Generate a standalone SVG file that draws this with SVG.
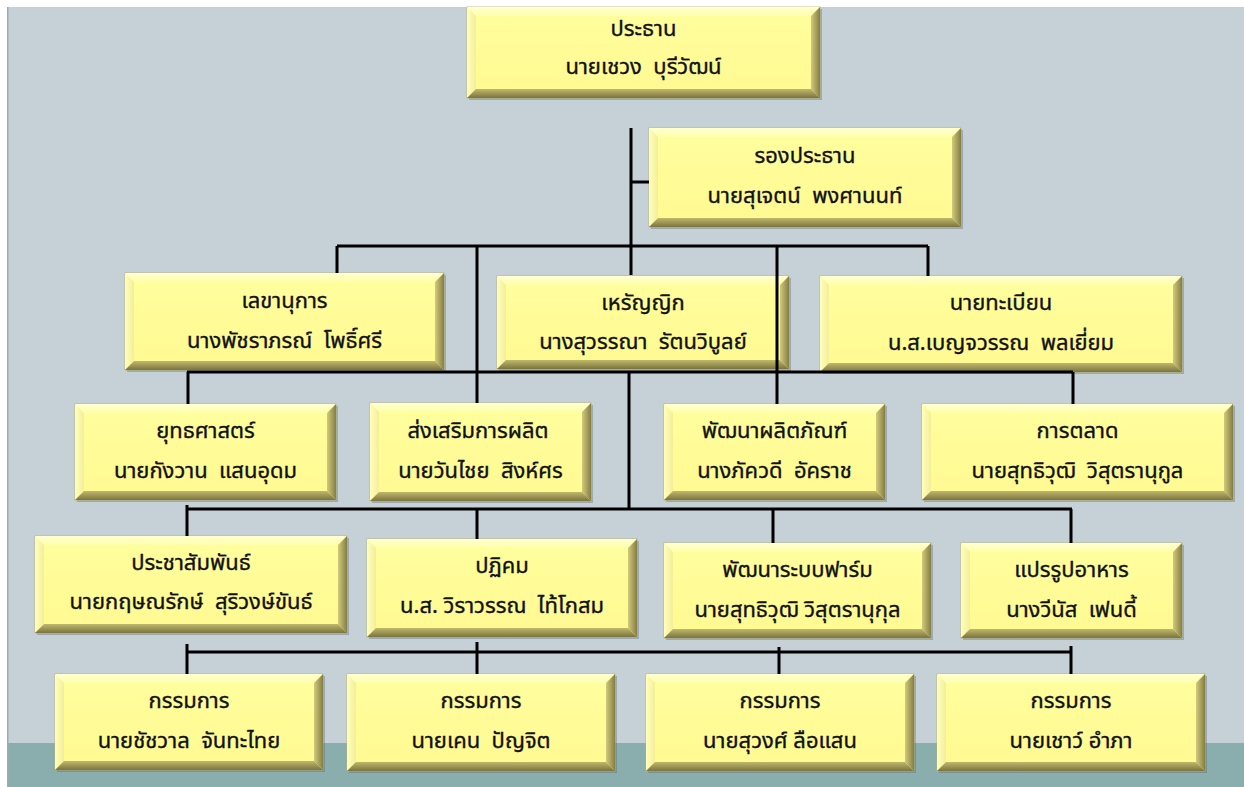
<svg xmlns="http://www.w3.org/2000/svg" width="1244" height="787" viewBox="0 0 1244 787">
<defs>
<linearGradient id="gF" x1="0" y1="0" x2="0" y2="1"><stop offset="0" stop-color="#FFFF9E"/><stop offset="1" stop-color="#FFF991"/></linearGradient>
<linearGradient id="gT" x1="0" y1="0" x2="0" y2="1"><stop offset="0" stop-color="#FFFFD2"/><stop offset="1" stop-color="#FFFFAA"/></linearGradient>
<linearGradient id="gL" x1="0" y1="0" x2="1" y2="0"><stop offset="0" stop-color="#FFFFBC"/><stop offset="1" stop-color="#F4EE98"/></linearGradient>
<linearGradient id="gR" x1="0" y1="0" x2="1" y2="0"><stop offset="0" stop-color="#D2CA7A"/><stop offset="1" stop-color="#857E44"/></linearGradient>
<linearGradient id="gB" x1="0" y1="0" x2="0" y2="1"><stop offset="0" stop-color="#C0B86C"/><stop offset="1" stop-color="#7A743F"/></linearGradient>
</defs>
<style>
.face{fill:url(#gF);stroke:#B9B26A;stroke-width:0.8}
.t{fill:url(#gT)}
.l{fill:url(#gL)}
.r{fill:url(#gR)}
.b{fill:url(#gB)}
.sh{fill:#5A6468;opacity:0.35}
text{font-family:"Noto Sans Thai","Tahoma","DejaVu Sans",sans-serif;font-size:22px;fill:#111;stroke:#111;stroke-width:0.35;text-anchor:middle;white-space:pre}
.cn path{stroke:#000;stroke-width:3;fill:none}
</style>
<rect width="1244" height="787" fill="#FFFFFF"/>
<rect x="7" y="7" width="1237" height="780" fill="#C5D0D7"/>
<rect x="7" y="743" width="1237" height="44" fill="#8AADAD"/>
<rect x="7" y="7" width="1.5" height="780" fill="#9AADB0"/>

<g id="n1">
<rect class="sh" x="469" y="9" width="353" height="91"/>
<rect class="face" x="467" y="7" width="353" height="91"/>
<polygon class="t" points="467,7 820,7 811,16 476,16"/>
<polygon class="l" points="467,7 476,16 476,89 467,98"/>
<polygon class="r" points="820,7 820,98 811,89 811,16"/>
<polygon class="b" points="467,98 476,89 811,89 820,98"/>
<text x="643.5" y="36">ประธาน</text>
<text x="643.5" y="74">นายเชวง  บุรีวัฒน์</text>
</g>
<g id="n2">
<rect class="sh" x="651" y="130" width="312" height="99"/>
<rect class="face" x="649" y="128" width="312" height="99"/>
<polygon class="t" points="649,128 961,128 952,137 658,137"/>
<polygon class="l" points="649,128 658,137 658,218 649,227"/>
<polygon class="r" points="961,128 961,227 952,218 952,137"/>
<polygon class="b" points="649,227 658,218 952,218 961,227"/>
<text x="805" y="163">รองประธาน</text>
<text x="805" y="203">นายสุเจตน์  พงศานนท์</text>
</g>
<g id="n3">
<rect class="sh" x="127" y="275" width="319" height="97"/>
<rect class="face" x="125" y="273" width="319" height="97"/>
<polygon class="t" points="125,273 444,273 435,282 134,282"/>
<polygon class="l" points="125,273 134,282 134,361 125,370"/>
<polygon class="r" points="444,273 444,370 435,361 435,282"/>
<polygon class="b" points="125,370 134,361 435,361 444,370"/>
<text x="284.5" y="308">เลขานุการ</text>
<text x="284.5" y="348">นางพัชราภรณ์  โพธิ์ศรี</text>
</g>
<g id="n4">
<rect class="sh" x="499" y="278" width="292" height="93"/>
<rect class="face" x="497" y="276" width="292" height="93"/>
<polygon class="t" points="497,276 789,276 780,285 506,285"/>
<polygon class="l" points="497,276 506,285 506,360 497,369"/>
<polygon class="r" points="789,276 789,369 780,360 780,285"/>
<polygon class="b" points="497,369 506,360 780,360 789,369"/>
<text x="643" y="310">เหรัญญิก</text>
<text x="643" y="349">นางสุวรรณา  รัตนวิบูลย์</text>
</g>
<g id="n5">
<rect class="sh" x="822" y="278" width="362" height="96"/>
<rect class="face" x="820" y="276" width="362" height="96"/>
<polygon class="t" points="820,276 1182,276 1173,285 829,285"/>
<polygon class="l" points="820,276 829,285 829,363 820,372"/>
<polygon class="r" points="1182,276 1182,372 1173,363 1173,285"/>
<polygon class="b" points="820,372 829,363 1173,363 1182,372"/>
<text x="1001" y="310">นายทะเบียน</text>
<text x="1001" y="350">น.ส.เบญจวรรณ  พลเยี่ยม</text>
</g>
<g id="n6">
<rect class="sh" x="77" y="406" width="261" height="96"/>
<rect class="face" x="75" y="404" width="261" height="96"/>
<polygon class="t" points="75,404 336,404 327,413 84,413"/>
<polygon class="l" points="75,404 84,413 84,491 75,500"/>
<polygon class="r" points="336,404 336,500 327,491 327,413"/>
<polygon class="b" points="75,500 84,491 327,491 336,500"/>
<text x="205.5" y="438">ยุทธศาสตร์</text>
<text x="205.5" y="478">นายกังวาน  แสนอุดม</text>
</g>
<g id="n7">
<rect class="sh" x="372" y="405" width="221" height="98"/>
<rect class="face" x="370" y="403" width="221" height="98"/>
<polygon class="t" points="370,403 591,403 582,412 379,412"/>
<polygon class="l" points="370,403 379,412 379,492 370,501"/>
<polygon class="r" points="591,403 591,501 582,492 582,412"/>
<polygon class="b" points="370,501 379,492 582,492 591,501"/>
<text x="478" y="438">ส่งเสริมการผลิต</text>
<text x="480.5" y="478">นายวันไชย  สิงห์ศร</text>
</g>
<g id="n8">
<rect class="sh" x="666" y="406" width="221" height="96"/>
<rect class="face" x="664" y="404" width="221" height="96"/>
<polygon class="t" points="664,404 885,404 876,413 673,413"/>
<polygon class="l" points="664,404 673,413 673,491 664,500"/>
<polygon class="r" points="885,404 885,500 876,491 876,413"/>
<polygon class="b" points="664,500 673,491 876,491 885,500"/>
<text x="774.5" y="438">พัฒนาผลิตภัณฑ์</text>
<text x="774.5" y="478">นางภัควดี  อัคราช</text>
</g>
<g id="n9">
<rect class="sh" x="924" y="406" width="311" height="96"/>
<rect class="face" x="922" y="404" width="311" height="96"/>
<polygon class="t" points="922,404 1233,404 1224,413 931,413"/>
<polygon class="l" points="922,404 931,413 931,491 922,500"/>
<polygon class="r" points="1233,404 1233,500 1224,491 1224,413"/>
<polygon class="b" points="922,500 931,491 1224,491 1233,500"/>
<text x="1077.5" y="438">การตลาด</text>
<text x="1077.5" y="478">นายสุทธิวุฒิ  วิสุตรานุกูล</text>
</g>
<g id="n10">
<rect class="sh" x="37" y="538" width="312" height="97"/>
<rect class="face" x="35" y="536" width="312" height="97"/>
<polygon class="t" points="35,536 347,536 338,545 44,545"/>
<polygon class="l" points="35,536 44,545 44,624 35,633"/>
<polygon class="r" points="347,536 347,633 338,624 338,545"/>
<polygon class="b" points="35,633 44,624 338,624 347,633"/>
<text x="191" y="570">ประชาสัมพันธ์</text>
<text x="191" y="609">นายกฤษณรักษ์  สุริวงษ์ขันธ์</text>
</g>
<g id="n11">
<rect class="sh" x="369" y="541" width="270" height="98"/>
<rect class="face" x="367" y="539" width="270" height="98"/>
<polygon class="t" points="367,539 637,539 628,548 376,548"/>
<polygon class="l" points="367,539 376,548 376,628 367,637"/>
<polygon class="r" points="637,539 637,637 628,628 628,548"/>
<polygon class="b" points="367,637 376,628 628,628 637,637"/>
<text x="502" y="573">ปฏิคม</text>
<text x="502" y="613">น.ส. วิราวรรณ  ไท้โกสม</text>
</g>
<g id="n12">
<rect class="sh" x="666" y="545" width="267" height="95"/>
<rect class="face" x="664" y="543" width="267" height="95"/>
<polygon class="t" points="664,543 931,543 922,552 673,552"/>
<polygon class="l" points="664,543 673,552 673,629 664,638"/>
<polygon class="r" points="931,543 931,638 922,629 922,552"/>
<polygon class="b" points="664,638 673,629 922,629 931,638"/>
<text x="797.5" y="577">พัฒนาระบบฟาร์ม</text>
<text x="797.5" y="617">นายสุทธิวุฒิ วิสุตรานุกุล</text>
</g>
<g id="n13">
<rect class="sh" x="963" y="545" width="221" height="95"/>
<rect class="face" x="961" y="543" width="221" height="95"/>
<polygon class="t" points="961,543 1182,543 1173,552 970,552"/>
<polygon class="l" points="961,543 970,552 970,629 961,638"/>
<polygon class="r" points="1182,543 1182,638 1173,629 1173,552"/>
<polygon class="b" points="961,638 970,629 1173,629 1182,638"/>
<text x="1071.5" y="577">แปรรูปอาหาร</text>
<text x="1071.5" y="617">นางวีนัส  เฟนดี้</text>
</g>
<g id="n14">
<rect class="sh" x="57" y="676" width="268" height="96"/>
<rect class="face" x="55" y="674" width="268" height="96"/>
<polygon class="t" points="55,674 323,674 314,683 64,683"/>
<polygon class="l" points="55,674 64,683 64,761 55,770"/>
<polygon class="r" points="323,674 323,770 314,761 314,683"/>
<polygon class="b" points="55,770 64,761 314,761 323,770"/>
<text x="189" y="708">กรรมการ</text>
<text x="189" y="748">นายชัชวาล  จันทะไทย</text>
</g>
<g id="n15">
<rect class="sh" x="349" y="676" width="268" height="97"/>
<rect class="face" x="347" y="674" width="268" height="97"/>
<polygon class="t" points="347,674 615,674 606,683 356,683"/>
<polygon class="l" points="347,674 356,683 356,762 347,771"/>
<polygon class="r" points="615,674 615,771 606,762 606,683"/>
<polygon class="b" points="347,771 356,762 606,762 615,771"/>
<text x="481" y="708">กรรมการ</text>
<text x="481" y="748">นายเคน  ปัญจิต</text>
</g>
<g id="n16">
<rect class="sh" x="648" y="676" width="268" height="97"/>
<rect class="face" x="646" y="674" width="268" height="97"/>
<polygon class="t" points="646,674 914,674 905,683 655,683"/>
<polygon class="l" points="646,674 655,683 655,762 646,771"/>
<polygon class="r" points="914,674 914,771 905,762 905,683"/>
<polygon class="b" points="646,771 655,762 905,762 914,771"/>
<text x="780" y="708">กรรมการ</text>
<text x="780" y="748">นายสุวงศ์ ลือแสน</text>
</g>
<g id="n17">
<rect class="sh" x="939" y="676" width="268" height="97"/>
<rect class="face" x="937" y="674" width="268" height="97"/>
<polygon class="t" points="937,674 1205,674 1196,683 946,683"/>
<polygon class="l" points="937,674 946,683 946,762 937,771"/>
<polygon class="r" points="1205,674 1205,771 1196,762 1196,683"/>
<polygon class="b" points="937,771 946,762 1196,762 1205,771"/>
<text x="1071" y="708">กรรมการ</text>
<text x="1071" y="748">นายเชาว์ อำภา</text>
</g>

<g id="connectors" class="cn">
<path d="M631 128 V275"/>
<path d="M631 182 H649"/>
<path d="M337 246 H928"/>
<path d="M337 246 V273"/>
<path d="M928 246 V276"/>
<path d="M477 246 V403"/>
<path d="M777 246 V404"/>
<path d="M187 372 H1073"/>
<path d="M188 372 V404"/>
<path d="M1073 372 V404"/>
<path d="M629 372 V510"/>
<path d="M187 509 H1072"/>
<path d="M187 505 V536"/>
<path d="M477 509 V539"/>
<path d="M773 509 V543"/>
<path d="M1071 509 V543"/>
<path d="M187 652 H1071"/>
<path d="M187 644 V674"/>
<path d="M477 642 V674"/>
<path d="M779 647 V674"/>
<path d="M1071 646 V674"/>
</g>
</svg>
